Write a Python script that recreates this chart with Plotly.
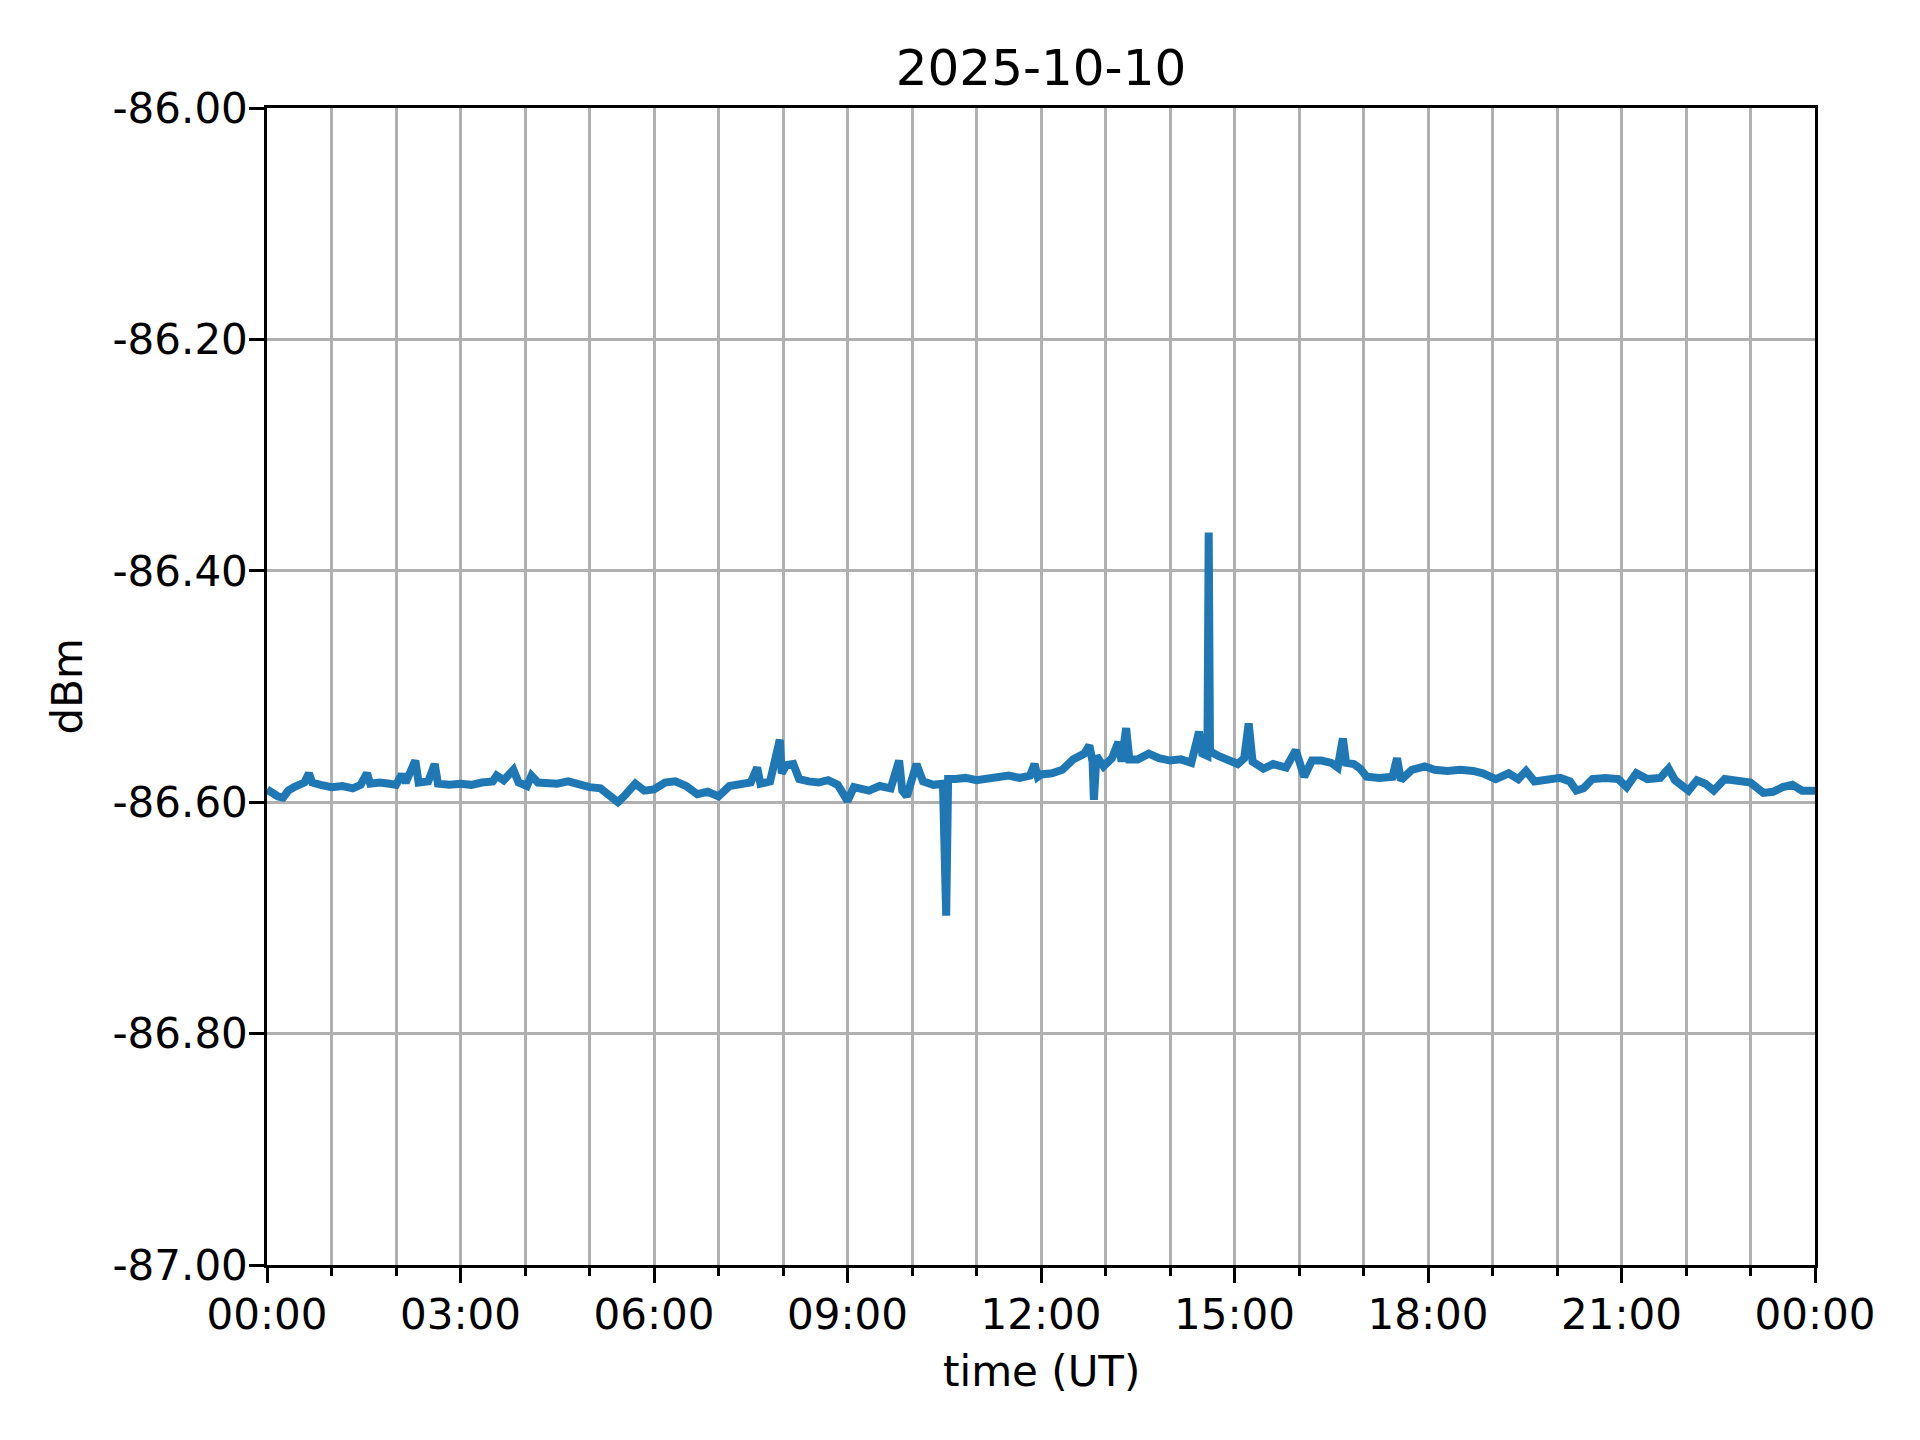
import plotly.graph_objects as go

# time of day (hours UT) and received level (dBm)
hours = [0.00, 0.08, 0.17, 0.25, 0.33, 0.42, 0.50, 0.58, 0.65, 0.70, 0.83,
         1.00, 1.17, 1.33, 1.45, 1.55, 1.60, 1.75, 1.90,
         2.00, 2.09, 2.15, 2.30, 2.35, 2.50, 2.60, 2.65, 2.83,
         3.00, 3.17, 3.33, 3.50, 3.56, 3.67, 3.82, 3.90,
         4.03, 4.10, 4.20, 4.33, 4.50, 4.67, 4.83,
         5.00, 5.17, 5.33, 5.44, 5.55, 5.71, 5.85,
         6.00, 6.17, 6.33, 6.50, 6.67, 6.83,
         7.00, 7.17, 7.33, 7.50, 7.60, 7.65, 7.80, 7.95, 7.98,
         8.05, 8.16, 8.25, 8.40, 8.55, 8.70, 8.85,
         9.00, 9.10, 9.33, 9.50, 9.67, 9.80, 9.85, 9.92,
         10.07, 10.17, 10.33, 10.48, 10.53, 10.56, 10.67, 10.83,
         11.00, 11.17, 11.33, 11.50, 11.67, 11.83, 11.90, 11.95,
         12.00, 12.17, 12.33, 12.50, 12.67, 12.75, 12.80, 12.82, 12.86, 12.97,
         13.10, 13.20, 13.25, 13.32, 13.37, 13.50, 13.67, 13.83,
         14.00, 14.17, 14.33, 14.45, 14.50, 14.58, 14.60, 14.62, 14.75, 14.90,
         15.05, 15.15, 15.22, 15.28, 15.45, 15.60, 15.80, 15.95,
         16.00, 16.08, 16.20, 16.35, 16.50, 16.60, 16.68, 16.73, 16.85, 16.95,
         17.05, 17.25, 17.45, 17.52, 17.58, 17.75, 17.95,
         18.10, 18.30, 18.50, 18.70, 18.85,
         19.05, 19.25, 19.40, 19.52, 19.65, 19.85,
         20.05, 20.20, 20.30, 20.41, 20.55, 20.75, 20.95,
         21.08, 21.23, 21.40, 21.60, 21.73, 21.83,
         22.04, 22.17, 22.30, 22.43, 22.60, 22.80,
         23.00, 23.20, 23.35, 23.50, 23.65, 23.80, 24.00]

dbm = [-86.589, -86.592, -86.595, -86.596, -86.590, -86.587, -86.584, -86.583, -86.575, -86.583, -86.585,
       -86.587, -86.586, -86.588, -86.585, -86.575, -86.584, -86.583, -86.584,
       -86.585, -86.576, -86.583, -86.564, -86.583, -86.582, -86.567, -86.584, -86.585,
       -86.584, -86.585, -86.583, -86.582, -86.577, -86.581, -86.572, -86.583,
       -86.586, -86.577, -86.583, -86.583, -86.584, -86.582, -86.585,
       -86.587, -86.588, -86.594, -86.600, -86.594, -86.584, -86.590,
       -86.589, -86.583, -86.582, -86.586, -86.593, -86.591,
       -86.595, -86.586, -86.585, -86.583, -86.570, -86.584, -86.582, -86.546, -86.575,
       -86.568, -86.567, -86.580, -86.582, -86.583, -86.581, -86.585,
       -86.599, -86.587, -86.590, -86.586, -86.588, -86.564, -86.590, -86.595,
       -86.567, -86.582, -86.585, -86.584, -86.698, -86.580, -86.580, -86.579,
       -86.581, -86.580, -86.578, -86.577, -86.579, -86.577, -86.567, -86.578,
       -86.576, -86.575, -86.572, -86.563, -86.558, -86.551, -86.565, -86.598, -86.560, -86.569,
       -86.562, -86.548, -86.565, -86.536, -86.563, -86.563, -86.558, -86.562,
       -86.564, -86.563, -86.566, -86.539, -86.558, -86.560, -86.367, -86.556, -86.560, -86.563,
       -86.567, -86.562, -86.532, -86.565, -86.571, -86.567, -86.570, -86.555,
       -86.564, -86.578, -86.564, -86.564, -86.566, -86.570, -86.545, -86.566, -86.567, -86.571,
       -86.578, -86.579, -86.578, -86.562, -86.581, -86.572, -86.569,
       -86.572, -86.573, -86.572, -86.573, -86.575,
       -86.580, -86.575, -86.580, -86.573, -86.582, -86.580,
       -86.579, -86.582, -86.590, -86.588, -86.580, -86.579, -86.580,
       -86.587, -86.575, -86.580, -86.579, -86.571, -86.581,
       -86.590, -86.581, -86.584, -86.590, -86.580, -86.581,
       -86.583, -86.592, -86.591, -86.587, -86.585, -86.590, -86.590]

x_tick_vals = [0, 3, 6, 9, 12, 15, 18, 21, 24]
x_tick_text = ["00:00", "03:00", "06:00", "09:00", "12:00", "15:00", "18:00", "21:00", "00:00"]
y_tick_vals = [-87.0, -86.8, -86.6, -86.4, -86.2, -86.0]
y_tick_text = ["-87.00", "-86.80", "-86.60", "-86.40", "-86.20", "-86.00"]

FONT = "DejaVu Sans"
GRID = "#b0b0b0"

fig = go.Figure()
fig.add_trace(go.Scatter(x=hours, y=dbm, mode="lines",
                         line=dict(color="#1f77b4", width=8), showlegend=False))

fig.update_layout(
    width=1920, height=1440,
    margin=dict(l=259, r=113, t=100, b=183),
    paper_bgcolor="white", plot_bgcolor="white",
    font=dict(family=FONT, size=42, color="black"),
    title=dict(text="2025-10-10", x=0.5, xanchor="center", xref="paper",
               y=1 - 59 / 1440, yanchor="middle", font=dict(size=50, family=FONT)),
)

fig.update_xaxes(
    range=[0, 24], tickmode="array", tickvals=x_tick_vals, ticktext=x_tick_text,
    showline=True, mirror=True, linecolor="black", linewidth=3.3,
    ticks="outside", ticklen=14.6, tickwidth=3.3, tickcolor="black",
    showgrid=True, gridcolor=GRID, gridwidth=3.3, zeroline=False,
    tickfont=dict(size=42, family=FONT), ticklabelstandoff=-4,
    minor=dict(dtick=1, tick0=0, ticks="outside", ticklen=8.3, tickwidth=2.5,
               tickcolor="black", showgrid=True, gridcolor=GRID, gridwidth=3.3),
)
fig.update_yaxes(
    range=[-87.0, -86.0], tickmode="array", tickvals=y_tick_vals, ticktext=y_tick_text,
    showline=True, mirror=True, linecolor="black", linewidth=3.3,
    ticks="outside", ticklen=14.6, tickwidth=3.3, tickcolor="black",
    showgrid=True, gridcolor=GRID, gridwidth=3.3, zeroline=False,
    tickfont=dict(size=42, family=FONT), ticklabelstandoff=-7,
)

fig.add_annotation(text="time (UT)", xref="paper", yref="paper",
                   x=0.5, y=-(1371 - 1265) / (1265 - 108), xanchor="center", yanchor="middle",
                   showarrow=False, font=dict(size=42, family=FONT))
fig.add_annotation(text="dBm", xref="paper", yref="paper",
                   x=-(267 - 67) / (1815 - 267), y=0.5, xanchor="center", yanchor="middle",
                   textangle=-90, showarrow=False, font=dict(size=42, family=FONT))

fig.write_html("out.html")
